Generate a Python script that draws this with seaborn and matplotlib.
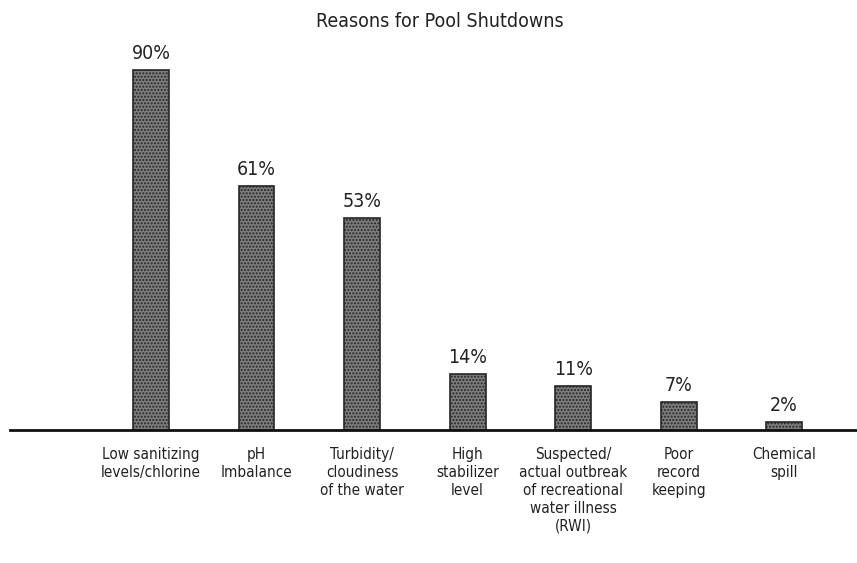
import matplotlib
matplotlib.use("Agg")
import matplotlib.pyplot as plt
import seaborn as sns
import pandas as pd

categories = [
    "Low sanitizing\nlevels/chlorine",
    "pH\nImbalance",
    "Turbidity/\ncloudiness\nof the water",
    "High\nstabilizer\nlevel",
    "Suspected/\nactual outbreak\nof recreational\nwater illness\n(RWI)",
    "Poor\nrecord\nkeeping",
    "Chemical\nspill",
]
values = [90, 61, 53, 14, 11, 7, 2]
value_labels = ["90%", "61%", "53%", "14%", "11%", "7%", "2%"]
title = "Reasons for Pool Shutdowns"

sns.set_theme(style="white")
plt.rcParams["font.family"] = ["DejaVu Sans"]
plt.rcParams["hatch.color"] = "#4a4a4a"

df = pd.DataFrame({"reason": categories, "pct": values})

fig = plt.figure(figsize=(8.57, 5.63), dpi=100)
ax = fig.add_axes([0.0117, 0.236, 0.9883, 0.711])

sns.barplot(data=df, x="reason", y="pct", ax=ax, color="#7d7d7d",
            width=0.34, edgecolor="#262626", linewidth=1.2, saturation=1)
for p in ax.patches:
    p.set_hatch(".....")

for i, (v, lab) in enumerate(zip(values, value_labels)):
    ax.text(i, v + 1.8, lab, ha="center", va="bottom", fontsize=14,
            fontstretch="condensed", color="#222222")

ax.set_xlim(-1.336, 6.69)
ax.set_ylim(0, 100)
ax.set_xlabel("")
ax.set_ylabel("")
ax.set_yticks([])
ax.set_xticks(range(len(categories)))
ax.set_xticklabels(categories, fontsize=11, fontstretch="condensed",
                   color="#222222", linespacing=1.25)
ax.tick_params(axis="x", length=0, pad=12)
for s in ["top", "right", "left"]:
    ax.spines[s].set_visible(False)
ax.spines["bottom"].set_color("#111111")
ax.spines["bottom"].set_linewidth(2)

fig.text(0.513, 0.962, title, ha="center", va="center", fontsize=14,
         fontstretch="condensed", color="#222222")

fig.savefig("out.png", dpi=100)
